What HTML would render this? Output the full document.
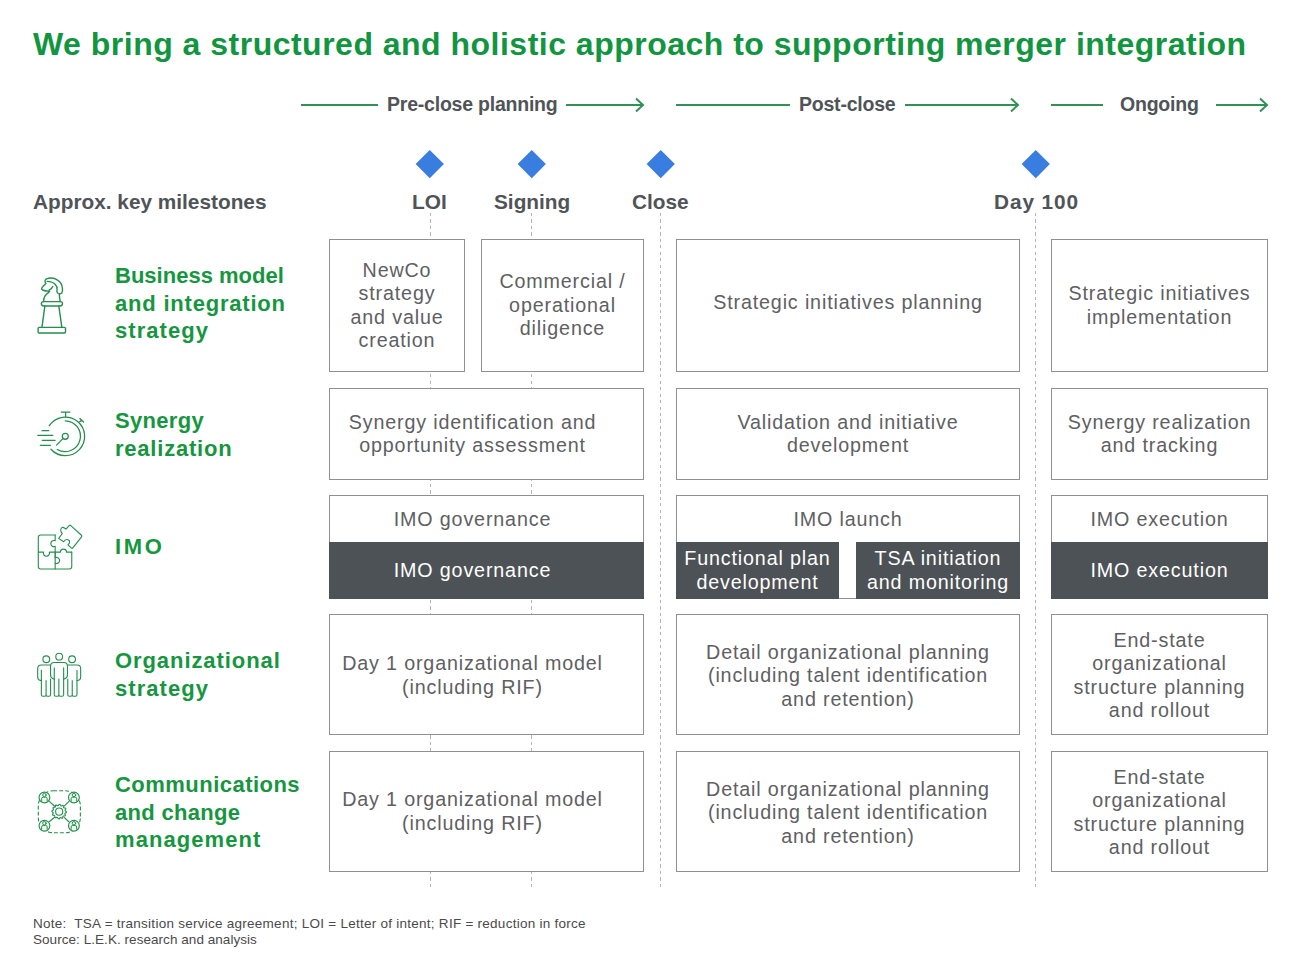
<!DOCTYPE html>
<html><head><meta charset="utf-8">
<style>
html,body{margin:0;padding:0;background:#fff;}
body{width:1300px;height:977px;position:relative;overflow:hidden;font-family:"Liberation Sans",sans-serif;}
.a{position:absolute;white-space:nowrap;}
.title{left:33px;top:26px;font-size:32px;font-weight:bold;color:#129540;letter-spacing:0.49px;}
.ph{font-size:19.5px;font-weight:bold;color:#505457;top:93px;letter-spacing:-0.22px;}
.gl{position:absolute;height:2px;background:#339158;top:104px;}
.ms{font-size:20.8px;font-weight:bold;color:#505457;top:190px;}
.dia{position:absolute;width:19.5px;height:19.5px;background:#3a7de0;transform:rotate(45deg);top:154px;}
.vd{position:absolute;top:213px;height:674px;width:1px;background:repeating-linear-gradient(to bottom,#b4b4b4 0,#b4b4b4 3.2px,rgba(255,255,255,0) 3.2px,rgba(255,255,255,0) 6.45px);}
.box{position:absolute;box-sizing:border-box;border:1.5px solid #909090;background:#fff;display:flex;align-items:center;justify-content:center;text-align:center;color:#5e6062;font-size:19.7px;line-height:23.5px;letter-spacing:0.85px;}
.dark{position:absolute;box-sizing:border-box;background:#4d5256;color:#fff;display:flex;align-items:center;justify-content:center;text-align:center;font-size:19.7px;line-height:23.5px;letter-spacing:0.85px;}
.lab{position:absolute;left:115px;font-size:22px;font-weight:bold;color:#16963f;line-height:27.5px;letter-spacing:0.3px;}
.note{position:absolute;left:33px;font-size:13.5px;color:#4a4a4a;letter-spacing:0.05px;}
.pa{padding-right:28px;}
svg.ic{position:absolute;overflow:visible;}
svg.ic .g{fill:none;stroke:#258d4e;stroke-linecap:round;stroke-linejoin:round;}
</style></head><body>
<div class="a title">We bring a structured and holistic approach to supporting merger integration</div>

<!-- phase headers -->
<div class="gl" style="left:301px;width:77px"></div>
<div class="a ph" style="left:387px">Pre-close planning</div>
<div class="gl" style="left:566px;width:76px"></div>
<div class="gl" style="left:676px;width:114px"></div>
<div class="a ph" style="left:799px">Post-close</div>
<div class="gl" style="left:905px;width:112px"></div>
<div class="gl" style="left:1051px;width:52px"></div>
<div class="a ph" style="left:1120px">Ongoing</div>
<div class="gl" style="left:1216px;width:50px"></div>
<svg class="ic" style="left:0;top:0" width="1300" height="120">
<path d="M636,98.5 L643,105 L636,111.5" fill="none" stroke="#339158" stroke-width="2"/>
<path d="M1011,98.5 L1018,105 L1011,111.5" fill="none" stroke="#339158" stroke-width="2"/>
<path d="M1260,98.5 L1267,105 L1260,111.5" fill="none" stroke="#339158" stroke-width="2"/>
</svg>

<!-- milestones -->
<div class="a ms" style="left:33px">Approx. key milestones</div>
<div class="a ms" style="left:412px">LOI</div>
<div class="a ms" style="left:494px">Signing</div>
<div class="a ms" style="left:632px">Close</div>
<div class="a ms" style="left:994px;letter-spacing:0.9px">Day 100</div>
<div class="dia" style="left:420px"></div>
<div class="dia" style="left:521.5px"></div>
<div class="dia" style="left:650.5px"></div>
<div class="dia" style="left:1025.5px"></div>
<div class="vd" style="left:429.5px"></div>
<div class="vd" style="left:531px"></div>
<div class="vd" style="left:660px"></div>
<div class="vd" style="left:1035px"></div>

<!-- row 1 -->
<div class="box" style="left:329px;top:239px;width:136px;height:133px">NewCo<br>strategy<br>and value<br>creation</div>
<div class="box" style="left:481px;top:239px;width:163px;height:133px">Commercial /<br>operational<br>diligence</div>
<div class="box" style="left:676px;top:239px;width:344px;height:133px;padding-bottom:5px">Strategic initiatives planning</div>
<div class="box" style="left:1051px;top:239px;width:217px;height:133px">Strategic initiatives<br>implementation</div>

<!-- row 2 -->
<div class="box pa" style="left:329px;top:388px;width:315px;height:92px">Synergy identification and<br>opportunity assessment</div>
<div class="box" style="left:676px;top:388px;width:344px;height:92px">Validation and initiative<br>development</div>
<div class="box" style="left:1051px;top:388px;width:217px;height:92px">Synergy realization<br>and tracking</div>

<!-- row 3 -->
<div class="box pa" style="left:329px;top:495px;width:315px;height:104px;align-items:flex-start;padding-top:12px">IMO governance</div>
<div class="dark pa" style="left:329px;top:542px;width:315px;height:57px">IMO governance</div>
<div class="box" style="left:676px;top:495px;width:344px;height:104px;align-items:flex-start;padding-top:12px">IMO launch</div>
<div class="dark" style="left:676px;top:542px;width:163px;height:57px">Functional plan<br>development</div>
<div class="dark" style="left:856px;top:542px;width:164px;height:57px">TSA initiation<br>and monitoring</div>
<div class="box" style="left:1051px;top:495px;width:217px;height:104px;align-items:flex-start;padding-top:12px">IMO execution</div>
<div class="dark" style="left:1051px;top:542px;width:217px;height:57px">IMO execution</div>

<!-- row 4 -->
<div class="box pa" style="left:329px;top:614px;width:315px;height:121px;padding-top:2px">Day 1 organizational model<br>(including RIF)</div>
<div class="box" style="left:676px;top:614px;width:344px;height:121px;padding-top:3px">Detail organizational planning<br>(including talent identification<br>and retention)</div>
<div class="box" style="left:1051px;top:614px;width:217px;height:121px;padding-top:2px">End-state<br>organizational<br>structure planning<br>and rollout</div>

<!-- row 5 -->
<div class="box pa" style="left:329px;top:751px;width:315px;height:121px">Day 1 organizational model<br>(including RIF)</div>
<div class="box" style="left:676px;top:751px;width:344px;height:121px;padding-top:3px">Detail organizational planning<br>(including talent identification<br>and retention)</div>
<div class="box" style="left:1051px;top:751px;width:217px;height:121px;padding-top:2px">End-state<br>organizational<br>structure planning<br>and rollout</div>

<!-- labels -->
<div class="lab" style="top:262px"><span style="letter-spacing:0.01px">Business model</span><br><span style="letter-spacing:0.79px">and integration</span><br><span style="letter-spacing:1.04px">strategy</span></div>
<div class="lab" style="top:407px"><span style="letter-spacing:0.30px">Synergy</span><br><span style="letter-spacing:0.78px">realization</span></div>
<div class="lab" style="top:533px"><span style="letter-spacing:2.60px">IMO</span></div>
<div class="lab" style="top:647px"><span style="letter-spacing:0.92px">Organizational</span><br><span style="letter-spacing:1.04px">strategy</span></div>
<div class="lab" style="top:771px"><span style="letter-spacing:0.47px">Communications</span><br><span style="letter-spacing:0.30px">and change</span><br><span style="letter-spacing:1.08px">management</span></div>


<!-- icons -->
<svg class="ic" style="left:25px;top:265px" width="60" height="80" viewBox="0 0 733 977">
<g class="g" stroke-width="17">
<rect x="160" y="762" width="335" height="68" rx="14"/>
<path d="M243,500 L207,762 M413,500 L450,762"/>
<rect x="200" y="447" width="258" height="53" rx="26"/>
<path d="M228,447 C225,400 245,365 290,335 L302,318 C270,322 240,315 215,305 C195,295 205,275 220,262 L255,225 C240,205 240,180 262,170 C330,140 450,175 458,290 C462,335 445,355 420,352 C395,348 385,330 392,300 C398,260 370,205 270,200"/>
<path d="M420,352 C418,380 425,410 430,447"/>
<path d="M338,262 C330,285 315,300 295,305"/>
</g></svg>
<svg class="ic" style="left:30px;top:400px" width="65" height="65" viewBox="0 0 977 977">
<g class="g" stroke-width="19">
<path d="M290,385 A290,290 0 1 1 315,740"/>
<path d="M530,312 A232,232 0 1 1 410,745"/>
<path d="M470,182 L600,182 M535,182 L535,252"/>
<path d="M750,278 L805,330 M745,330 L778,302"/>
<circle cx="530" cy="545" r="45"/>
<path d="M498,577 L400,678"/>
<path d="M180,460 L282,460 M118,533 L342,533 M185,607 L377,607 M155,682 L307,682"/>
</g></svg>
<svg class="ic" style="left:30px;top:515px" width="60" height="60" viewBox="0 0 977 977">
<g class="g" stroke-width="18">
<path d="M410,325 L175,325 Q135,325 135,365 L135,840 Q135,880 175,880 L640,880 Q680,880 680,840 L680,605"/>
<path d="M410,325 L410,420 A50,50 0 1 0 410,510 L410,880"/>
<path d="M410,605 L410,695 A50,50 0 1 1 410,785"/>
<path d="M135,605 L220,605 A50,50 0 1 0 315,605 L495,605 A48,48 0 1 1 595,605 L680,605"/>
<path d="M467,381 L527,301 C495,275 490,225 520,205 C545,190 570,215 587,231 L640,170 Q652,160 665,172 L838,330 Q850,342 840,355 L697,535 Q687,548 675,540 L617,486 C650,460 655,420 627,406 C600,392 565,405 547,436 Z"/>
</g></svg>
<svg class="ic" style="left:30px;top:645px" width="60" height="60" viewBox="0 0 977 977">
<g class="g" stroke-width="18">
<circle cx="475" cy="190" r="55"/>
<circle cx="265" cy="232" r="55"/>
<circle cx="685" cy="232" r="55"/>
<path d="M395,370 L395,810 Q395,835 420,835 L445,835 Q470,835 470,810 L470,555 M470,810 Q470,835 495,835 L523,835 Q548,835 548,810 L548,370"/>
<path d="M395,555 Q335,545 335,490 L335,345 Q335,285 395,285 L550,285 Q610,285 610,345 L610,490 Q610,545 548,555"/>
<path d="M335,325 L185,325 Q125,325 125,385 L125,520 Q125,575 185,580"/>
<path d="M185,410 L185,810 Q185,835 210,835 L237,835 Q262,835 262,810 L262,580 M262,810 Q262,835 287,835 L310,835 Q335,835 335,810 L335,555"/>
<path d="M615,325 L765,325 Q825,325 825,385 L825,520 Q825,575 765,580"/>
<path d="M765,410 L765,810 Q765,835 740,835 L713,835 Q688,835 688,810 L688,580 M688,810 Q688,835 663,835 L640,835 Q615,835 615,810 L615,555"/>
</g></svg>
<svg class="ic" style="left:30px;top:780px" width="60" height="60" viewBox="0 0 977 977">
<g class="g" stroke-width="18">
<rect x="135" y="175" width="685" height="685" rx="250" stroke-dasharray="50 48"/>
<path d="M318,352 L402,428 M632,352 L560,420 M318,675 L395,610 M632,680 L560,612"/>
<path d="M593,515 L592,530 L572,541 L567,553 L577,574 L569,587 L546,586 L536,594 L534,617 L520,624 L501,612 L488,614 L475,633 L460,632 L449,612 L437,607 L416,617 L403,609 L404,586 L396,576 L373,574 L366,560 L378,541 L376,528 L357,515 L358,500 L378,489 L383,477 L373,456 L381,443 L404,444 L414,436 L416,413 L430,406 L449,418 L462,416 L475,397 L490,398 L501,418 L513,423 L534,413 L547,421 L546,444 L554,454 L577,456 L584,470 L572,489 L574,502 Z"/>
<circle cx="475" cy="515" r="58"/>
</g>
<g class="g" stroke-width="18" fill="#fff">
<circle cx="235" cy="285" r="88" style="fill:#eef8f0"/>
<circle cx="715" cy="285" r="88" style="fill:#eef8f0"/>
<circle cx="235" cy="745" r="88" style="fill:#eef8f0"/>
<circle cx="715" cy="745" r="88" style="fill:#eef8f0"/>
</g>
<g class="g" stroke-width="16">
<circle cx="235" cy="245" r="28"/><path d="M190,345 L190,305 Q190,280 215,280 L255,280 Q280,280 280,305 L280,345"/>
<circle cx="715" cy="245" r="28"/><path d="M670,345 L670,305 Q670,280 695,280 L735,280 Q760,280 760,305 L760,345"/>
<circle cx="235" cy="705" r="28"/><path d="M190,805 L190,765 Q190,740 215,740 L255,740 Q280,740 280,765 L280,805"/>
<circle cx="715" cy="705" r="28"/><path d="M670,805 L670,765 Q670,740 695,740 L735,740 Q760,740 760,765 L760,805"/>
</g></svg>

<!-- notes -->
<div class="a note" style="top:916px;letter-spacing:0.26px">Note:&nbsp; TSA = transition service agreement; LOI = Letter of intent; RIF = reduction in force</div>
<div class="a note" style="top:931.5px">Source: L.E.K. research and analysis</div>

</body></html>
